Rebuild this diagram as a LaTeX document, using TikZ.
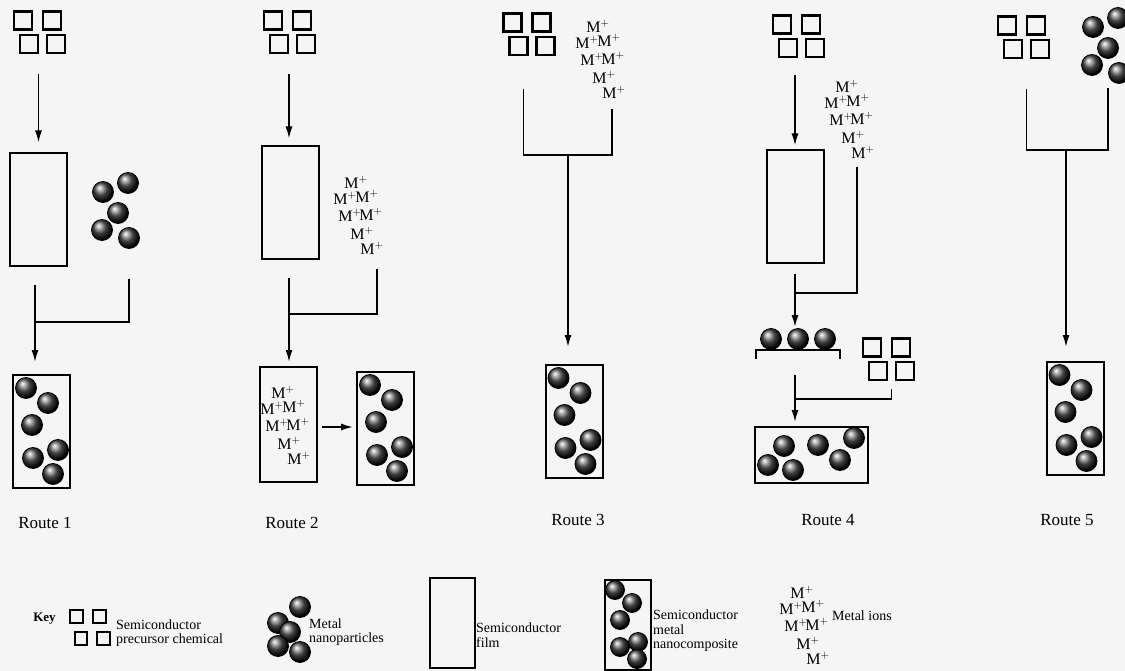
\documentclass[tikz,border=0pt]{standalone}
\usepackage{fontspec}
\setmainfont{Liberation Serif}
\usetikzlibrary{arrows.meta,calc}
\pgfdeclareradialshading{sphere}{\pgfpoint{-9bp}{11bp}}{color(0bp)=(white); color(5bp)=(black!25); color(15bp)=(black!75); color(27bp)=(black); color(50bp)=(black)}

\begin{document}
\begin{tikzpicture}[x=1pt,y=-1pt,
  line/.style={line width=1.7pt},
  arr/.style={line width=1.7pt,-{Latex[length=12pt,width=7pt]}},
  sq/.style={draw,line width=2.2pt,inner sep=0,minimum size=18pt},
  ksq/.style={draw,line width=1.8pt,inner sep=0,minimum size=12.5pt},
  film/.style={draw,line width=2pt,inner sep=0,minimum width=57pt,minimum height=113pt},
  ball/.style={circle,draw,line width=0.8pt,inner sep=0,minimum size=21pt,shading=sphere},
  ion/.style={inner sep=0,font=\fontsize{16}{16}\selectfont},
  route/.style={font=\fontsize{17}{20}\selectfont},
  keytext/.style={align=left,anchor=west,inner sep=0,font=\fontsize{14}{14.5}\selectfont},
  prec/.pic={
    \node[sq] (-a) at (0,0) {};
    \node[sq] (-b) at (29,0) {};
    \node[sq] (-c) at (6,23.5) {};
    \node[sq] (-d) at (33,23.5) {};
  },
  nano/.pic={
    \foreach \dx/\dy [count=\k] in {0/0,25/-9,15/21,-1/38,26/46}
      \node[ball] (-\k) at (\dx,\dy) {};
  },
  ions/.pic={
    \foreach \dx/\dy [count=\k] in {0/0,-11/16,11/14,-6/33,15/32,6/51,16/66}
      \node[ion] (-\k) at (\dx,\dy) {M$^{+}$};
  },
  comp/.pic={
    \node[film] (-box) at (0,0) {};
    \foreach \dx/\dy [count=\k] in {-15.5/-43.5,6.5/-28.5,-9.5/-6.5,-8.5/26.5,16.5/18.5,11.5/42.5}
      \node[ball] (-\k) at (\dx,\dy) {};
  }]
\fill[black!4] (0,0) rectangle (1125,671);
\useasboundingbox (0,0) rectangle (1125,671);

\pic (p1) at (23,20.5) {prec};
\node[film] (f1) at (38.5,210) {};
\pic (n1) at (103,192) {nano};
\pic (c1) at (41.5,431.5) {comp};
\coordinate (j1) at (35,322);
\draw[arr] ([yshift=-20pt]p1-c.south -| f1.north) -- ([yshift=10pt]f1.north);
\draw[line] ([yshift=-30pt]n1-5.south) |- (j1);
\draw[arr] ([yshift=-18pt]f1.south -| j1) -- (j1) -- ([yshift=12pt]c1-box.north -| j1);
\node[route] (r1) at (45,523) {Route 1};

\pic (p2) at (273,20.5) {prec};
\node[film] (f2) at (290,203) {};
\pic (i2) at (356,182) {ions};
\node[film,minimum height=115pt] (b2) at (288.5,424.5) {};
\pic (i2b) at (283,392) {ions};
\pic (c2) at (385.5,428.5) {comp};
\coordinate (j2) at (289,314);
\draw[arr] ([yshift=-20pt]p2-c.south -| j2) -- ([yshift=7pt]f2.north -| j2);
\draw[line] ([xshift=5pt,yshift=-14pt]i2-7.south) |- (j2);
\draw[arr] ([yshift=-18pt]f2.south -| j2) -- (j2) -- ([yshift=4pt]b2.north -| j2);
\draw[arr] ([xshift=4pt,yshift=-2.5pt]b2.east) -- ([xshift=-3pt,yshift=-2.5pt]b2.east -| c2-box.west);
\node[route] (r2) at (292,523) {Route 2};

\pic (p3) at (512.5,22.5) {prec};
\pic (i3) at (598,26) {ions};
\pic (c3) at (574,421.5) {comp};
\coordinate (j3) at (568,155);
\draw[line] ([xshift=5pt,yshift=-33pt]p3-c.south) |- (j3) -| ([xshift=-2pt,yshift=-10pt]i3-7.south);
\draw[arr] (j3) -- ([yshift=17pt]c3-box.north -| j3);
\node[route] (r3) at (578,520) {Route 3};

\pic (p4) at (782,24.5) {prec};
\node[film] (f4) at (795,207) {};
\pic (i4) at (847,86) {ions};
\node[ball] (s4-1) at (771,339) {};
\node[ball] (s4-2) at (798,339) {};
\node[ball] (s4-3) at (825,339) {};
\draw[line] ([xshift=-15pt,yshift=-9pt]s4-1.south) -- ([xshift=-15pt]s4-1.south)
  -- ([xshift=15pt]s4-3.south) -- ([xshift=15pt,yshift=-9pt]s4-3.south);
\pic (p4b) at (872,347.5) {prec};
\node[film,minimum width=113pt,minimum height=56pt] (c4) at (811.5,455) {};
\foreach \x/\y [count=\k] in {784/446,768/465,793/470,818/445,840/460,854/438}
  \node[ball] (c4-\k) at (\x,\y) {};
\coordinate (j4) at (795,293);
\coordinate (j4b) at (795,399);
\draw[arr] ([yshift=-17pt]p4-c.south -| j4) -- ([yshift=4pt]f4.north -| j4);
\draw[line] ([xshift=-6pt,yshift=-8pt]i4-7.south) |- (j4);
\draw[arr] ([yshift=-10pt]f4.south -| j4) -- (j4) -- ([yshift=1pt]s4-2.north -| j4);
\draw[line] ($(p4b-c.south)!0.5!(p4b-d.south)+(0,8)$) |- (j4b);
\draw[arr] ([yshift=-25pt]s4-2.south -| j4b) -- (j4b) -- ([yshift=4pt]c4.north -| j4b);
\node[route] (r4) at (828,520) {Route 4};

\pic (p5) at (1007,25.5) {prec};
\pic (n5) at (1093,27) {nano};
\pic (c5) at (1075,418.5) {comp};
\coordinate (j5) at (1066,150);
\draw[line] ($(p5-c.south)!0.5!(p5-d.south)+(0,30)$) |- (j5) -| ($(n5-3)+(0,40)$);
\draw[arr] (j5) -- ([yshift=14pt]c5-box.north -| j5);
\node[route] (r5) at (1067,520) {Route 5};

\node[font=\bfseries\fontsize{13}{13}\selectfont] (key) at (44.5,619) {Key};
\foreach \x/\y [count=\k] in {76.5/616.5,99.5/616.5,81/638.5,103.5/638.5}
  \node[ksq] (ks-\k) at (\x,\y) {};
\node[keytext] (kt1) at (116,633) {Semiconductor\\precursor chemical};
\foreach \x/\y [count=\k] in {278/623,300/607,290/632,278/646,300/652}
  \node[ball] (kn-\k) at (\x,\y) {};
\node[keytext] (kt2) at (309,632) {Metal\\nanoparticles};
\node[film,minimum width=45pt,minimum height=90pt] (kf) at (452.5,623) {};
\node[keytext] (kt3) at (476,635) {Semiconductor\\film};
\node[film,minimum width=46pt,minimum height=90pt] (kc) at (628,625) {};
\foreach \x/\y [count=\k] in {615/590,632/603,620/620,620/647,638/642,637/659}
  \node[ball,minimum size=19pt] (kc-\k) at (\x,\y) {};
\node[keytext] (kt4) at (653,631) {Semiconductor\\metal\\nanocomposite};
\pic (ki) at (802,592) {ions};
\node[keytext] (kt5) at (832,616) {Metal ions};
\end{tikzpicture}
\end{document}
